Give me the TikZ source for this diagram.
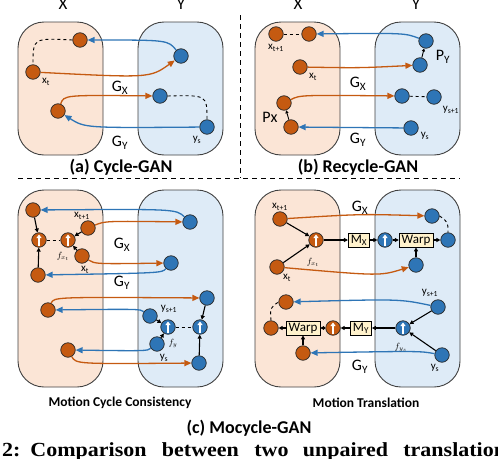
\documentclass[tikz,border=0pt]{standalone}
\usepackage{fontspec}
\setmainfont{Carlito}
\newfontfamily\capfont{Liberation Serif}
\usetikzlibrary{arrows.meta}

\definecolor{xorange}{HTML}{C55A11}
\definecolor{yblue}{HTML}{2E75B6}
\definecolor{xfill}{HTML}{FBE5D6}
\definecolor{yfill}{HTML}{DEEBF7}
\definecolor{opfill}{HTML}{FFF2CC}

\tikzset{
  domainbox/.style={draw=black!75, line width=0.9pt, rounded corners=26pt},
  sample/.style={circle, draw=black!85, line width=0.7pt, minimum size=14.5pt, inner sep=0pt},
  xs/.style={sample, fill=xorange},
  ys/.style={sample, fill=yblue},
  flow/.style={path picture={
      \draw[white, line width=1.4pt, -{Triangle[length=3.5pt,width=5pt]}]
        ([yshift=-5.5pt]path picture bounding box.center) -- ([yshift=5.5pt]path picture bounding box.center);}},
  xf/.style={xs, flow},
  yf/.style={ys, flow},
  opbox/.style={draw=black, fill=opfill, line width=0.7pt, minimum height=14pt, inner xsep=2.5pt, inner ysep=1pt, font=\fontsize{13}{13}\selectfont},
  gx/.style={xorange, line width=1.3pt, -{Triangle[length=7pt,width=6pt]}},
  gy/.style={yblue, line width=1.3pt, -{Triangle[length=7pt,width=6pt]}},
  mv/.style={black, line width=1.1pt, -{Triangle[length=4pt,width=4pt]}},
  link/.style={black, dashed, line width=0.9pt},
  lbl/.style={font=\fontsize{11}{11}\selectfont, inner sep=0pt},
  flbl/.style={font=\fontsize{9}{9}\selectfont, inner sep=0pt},
  gen/.style={font=\fontsize{16}{16}\selectfont, inner sep=0pt},
  dom/.style={font=\fontsize{17}{17}\selectfont, inner sep=0pt, anchor=base},
  title/.style={font=\bfseries\fontsize{18}{18}\selectfont, inner sep=0pt},
  subtitle/.style={font=\bfseries\fontsize{13.5}{13.5}\selectfont, inner sep=0pt},
}

\begin{document}
\begin{tikzpicture}[x=1pt, y=-1pt]
  \useasboundingbox (0,0) rectangle (498,458);
  % Domains
  \foreach \dx in {0,237} {
    \draw[domainbox, fill=xfill] (18+\dx,22) rectangle (103+\dx,155);
    \draw[domainbox, fill=yfill] (138+\dx,22) rectangle (223+\dx,155);
    \draw[domainbox, fill=xfill] (18+\dx,190) rectangle (103+\dx,387);
    \draw[domainbox, fill=yfill] (138+\dx,190) rectangle (223+\dx,387);
  }
  \node[dom] (domXa) at (63,9) {X};
  \node[dom] (domYa) at (181,9) {Y};
  \node[dom] (domXb) at (298,9) {X};
  \node[dom] (domYb) at (416,9) {Y};
  % Separators
  \draw[link, line width=0.8pt, dash pattern=on 5pt off 4pt] (240,15) -- (240,178);
  \draw[link, line width=0.8pt, dash pattern=on 5pt off 4pt] (18,178) -- (460,178);

  % (a) Cycle-GAN
  \node[xs] (a1) at (80,40) {};
  \node[xs] (a2) at (33,72) {};
  \node[xs] (a3) at (58,111) {};
  \node[ys] (a4) at (181,56) {};
  \node[ys] (a5) at (160,96) {};
  \node[ys] (a6) at (207,127) {};
  \node[lbl] (la2) at (46,82) {x\textsubscript{t}};
  \node[lbl] (la6) at (197,140) {y\textsubscript{s}};
  \node[gen] (gxa) at (120,88) {G\textsubscript{X}};
  \node[gen] (gya) at (120,143) {G\textsubscript{Y}};
  \draw[gy] (a4) .. controls (168,40) .. (a1);
  \draw[gx] (a2) .. controls (150,78) .. (a4);
  \draw[link] (a1.west) .. controls (33,38) .. (a2.north);
  \draw[gx] (a3) .. controls (64,95) .. (a5);
  \draw[link] (a5.east) .. controls (207,95) .. (a6.north);
  \draw[gy] (a6) .. controls (85,128) .. (a3);
  \node[title] (ta) at (121,167) {(a) Cycle-GAN};

  % (b) Recycle-GAN
  \node[xs] (b1) at (276,34) {};
  \node[xs] (b2) at (309,34) {};
  \node[xs] (b3) at (300,67) {};
  \node[xs] (b4) at (284,103) {};
  \node[xs] (b5) at (291,127) {};
  \node[ys] (b6) at (426,41) {};
  \node[ys] (b7) at (420,65) {};
  \node[ys] (b8) at (402,96) {};
  \node[ys] (b9) at (434,97) {};
  \node[ys] (b10) at (411,128) {};
  \draw[link] (b1) -- (b2);
  \draw[link] (b8) -- (b9);
  \draw[gy] (b6) .. controls (405,33) .. (b2);
  \draw[gx] (b3) .. controls (360,68) .. (b7);
  \draw[gx] (b4) .. controls (300,95) .. (b8);
  \draw[gy] (b10) -- (b5);
  \draw[mv, line width=0.9pt, -{Triangle[length=3pt,width=3pt]}] (b5) -- (b4);
  \draw[mv, line width=0.9pt, -{Triangle[length=3pt,width=3pt]}] (b7) -- (b6);
  \node[lbl] (lb1) at (276,48) {x\textsubscript{t+1}};
  \node[lbl] (lb3) at (313,77) {x\textsubscript{t}};
  \node[gen] (lb5) at (270,117) {Px};
  \node[gen] (lb7) at (443,57) {P\textsubscript{Y}};
  \node[lbl] (lb9) at (451,110) {y\textsubscript{s+1}};
  \node[lbl] (lb10) at (425,136) {y\textsubscript{s}};
  \node[gen] (gxb) at (358,84) {G\textsubscript{X}};
  \node[gen] (gyb) at (358,140) {G\textsubscript{Y}};
  \node[title] (tb) at (358,167) {(b) Recycle-GAN};

  % (c) Motion Cycle Consistency
  \node[xs] (c1) at (33,210) {};
  \node[xs] (c2) at (88,228) {};
  \node[xf] (c3) at (39,240) {};
  \node[xf] (c4) at (68,240) {};
  \node[xs] (c5) at (82,256) {};
  \node[xs] (c6) at (38,275) {};
  \node[ys] (c7) at (190,222) {};
  \node[ys] (c8) at (171,263) {};
  \draw[gy] (c7) .. controls (176,209) .. (c1);
  \draw[gx] (c2) .. controls (105,221) .. (c7);
  \draw[gx] (c5) .. controls (95,264) .. (c8);
  \draw[gy] (c8) .. controls (162,273) .. (c6);
  \draw[mv] (c1) -- (c3);
  \draw[mv] (c6) -- (c3);
  \draw[mv] (c2) -- (c4);
  \draw[mv] (c5) -- (c4);
  \draw[link] (c3) -- (c4);
  \node[lbl] (lc2) at (82,216) {x\textsubscript{t+1}};
  \node[flbl] (lc4) at (63,256) {$f_{x_t}$};
  \node[lbl] (lc5) at (85,270) {x\textsubscript{t}};
  \node[gen] (gxc) at (122,245) {G\textsubscript{X}};
  \node[gen] (gyc) at (122,283) {G\textsubscript{Y}};

  \node[xs] (c9) at (48,310) {};
  \node[xs] (c10) at (68,350) {};
  \node[ys] (c11) at (207,298) {};
  \node[ys] (c12) at (150,316) {};
  \node[yf] (c13) at (168,327) {};
  \node[yf] (c14) at (200,327) {};
  \node[ys] (c15) at (157,344) {};
  \node[ys] (c16) at (199,363) {};
  \draw[gx] (c9) .. controls (54,297) .. (c11);
  \draw[gy] (c12) .. controls (140,309) .. (c9);
  \draw[gy] (c15) .. controls (147,351) .. (c10);
  \draw[gx] (c10) .. controls (76,364) .. (c16);
  \draw[mv] (c12) -- (c13);
  \draw[mv] (c15) -- (c13);
  \draw[mv] (c11) -- (c14);
  \draw[mv] (c16) -- (c14);
  \draw[link] (c13) -- (c14);
  \node[lbl] (lc12) at (169,309) {y\textsubscript{s+1}};
  \node[flbl] (lc13) at (173,343) {$f_y$};
  \node[lbl] (lc15) at (164,358) {y\textsubscript{s}};
  \node[subtitle] (tc1) at (120,403) {Motion Cycle Consistency};

  % (c) Motion Translation
  \node[xs] (d1) at (280,219) {};
  \node[xf] (d2) at (316,240) {};
  \node[xs] (d3) at (277,267) {};
  \node[opbox] (d4) at (359,240) {M\textsubscript{X}};
  \node[yf] (d5) at (385,240) {};
  \node[opbox] (d6) at (416,240) {Warp};
  \node[ys] (d7) at (448,240) {};
  \node[ys] (d8) at (432,216) {};
  \node[ys] (d9) at (416,265) {};
  \draw[gx] (d1) .. controls (360,214) .. (d8);
  \draw[gx] (d3) .. controls (380,276) .. (d9);
  \draw[mv] (d1) -- (d2);
  \draw[mv] (d3) -- (d2);
  \draw[mv] (d2) -- (d4);
  \draw[mv] (d4) -- (d5);
  \draw[mv] (d5) -- (d6);
  \draw[mv] (d6) -- (d7);
  \draw[mv] (d9) -- (d6);
  \draw[link] (d8.east) .. controls (448,222) .. (d7.north);
  \node[lbl] (ld1) at (280,207) {x\textsubscript{t+1}};
  \node[flbl] (ld2) at (313,262) {$f_{x_t}$};
  \node[lbl] (ld3) at (287,278) {x\textsubscript{t}};
  \node[gen] (gxd) at (360,208) {G\textsubscript{X}};

  \node[ys] (d10) at (438,307) {};
  \node[xs] (d11) at (286,302) {};
  \node[xs] (d12) at (271,328) {};
  \node[opbox] (d13) at (303,328) {Warp};
  \node[xf] (d14) at (333,328) {};
  \node[opbox] (d15) at (361,328) {M\textsubscript{Y}};
  \node[yf] (d16) at (403,328) {};
  \node[xs] (d17) at (303,353) {};
  \node[ys] (d18) at (442,355) {};
  \draw[gy] (d10) .. controls (400,299) .. (d11);
  \draw[gy] (d18) .. controls (420,351) .. (d17);
  \draw[mv] (d10) -- (d16);
  \draw[mv] (d18) -- (d16);
  \draw[mv] (d16) -- (d15);
  \draw[mv] (d15) -- (d14);
  \draw[mv] (d14) -- (d13);
  \draw[mv] (d13) -- (d12);
  \draw[mv] (d17) -- (d13);
  \draw[link] (d12.north) .. controls (270,308) .. (d11.west);
  \node[lbl] (ld10) at (430,293) {y\textsubscript{s+1}};
  \node[flbl] (ld16) at (401,347) {$f_{y_s}$};
  \node[lbl] (ld18) at (435,368) {y\textsubscript{s}};
  \node[gen] (gyd) at (360,367) {G\textsubscript{Y}};
  \node[subtitle] (tc2) at (366,403) {Motion Translation};

  % Captions
  \node[title] (tc) at (249,428) {(c) Mocycle-GAN};
  \node[anchor=base west, inner sep=0pt, font=\capfont\bfseries\fontsize{20}{20}\selectfont] (fig)
    at (2,456) {\scalebox{1.1}[1]{2:\hspace{9pt}Comparison\hspace{14pt}between\hspace{14pt}two\hspace{13pt}unpaired\hspace{14pt}translation}};
\end{tikzpicture}
\end{document}
